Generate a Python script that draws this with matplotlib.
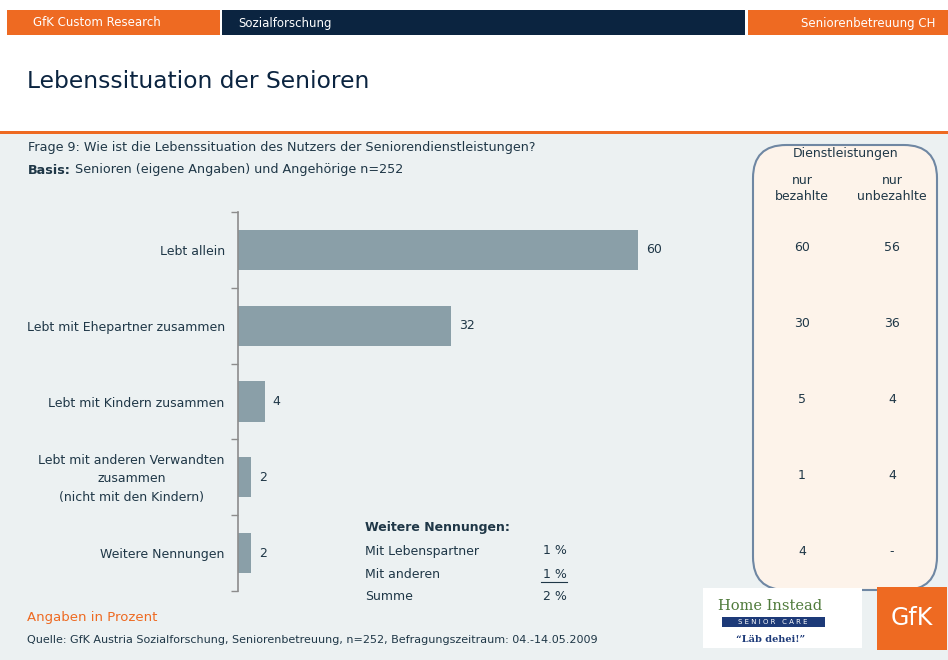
import matplotlib
matplotlib.use("Agg")
import matplotlib.pyplot as plt
from matplotlib.patches import Rectangle, FancyBboxPatch

W, H = 948, 660

categories = [
    "Lebt allein",
    "Lebt mit Ehepartner zusammen",
    "Lebt mit Kindern zusammen",
    "Lebt mit anderen Verwandten\nzusammen\n(nicht mit den Kindern)",
    "Weitere Nennungen",
]
values = [60, 32, 4, 2, 2]
nur_bezahlte = ["60", "30", "5", "1", "4"]
nur_unbezahlte = ["56", "36", "4", "4", "-"]
weitere_labels = ["Mit Lebenspartner", "Mit anderen", "Summe"]
weitere_values = ["1 %", "1 %", "2 %"]

navy = "#0B2440"
orange = "#EE6A22"
text_col = "#1F3747"
bar_col = "#8A9FA8"
bg = "#ECF1F2"


def fx(x):
    return x / W


def fy(y):
    return 1 - y / H


fig = plt.figure(figsize=(W / 100, H / 100), dpi=100)
fig.patch.set_facecolor("white")

# background panel
fig.patches.append(Rectangle((0, 0), 1, fy(133), transform=fig.transFigure,
                             facecolor=bg, edgecolor="none", zorder=-2))
fig.patches.append(Rectangle((0, fy(134)), 1, 3 / H, transform=fig.transFigure,
                             facecolor=orange, edgecolor="none", zorder=-1))

# header bars
for x0, x1, c in [(7, 220, orange), (222, 745, navy), (748, 948, orange)]:
    fig.patches.append(Rectangle((fx(x0), fy(35)), fx(x1 - x0), 25 / H,
                                 transform=fig.transFigure, facecolor=c,
                                 edgecolor="none", zorder=-1))
fig.text(fx(33), fy(23), "GfK Custom Research", color="white", fontsize=8.5, va="center")
fig.text(fx(238), fy(23), "Sozialforschung", color="white", fontsize=8.5, va="center")
fig.text(fx(935), fy(23), "Seniorenbetreuung CH", color="white", fontsize=8.5,
         va="center", ha="right")

fig.text(fx(27), fy(82), "Lebenssituation der Senioren", color=navy, fontsize=16.8,
         va="center")

fig.text(fx(28), fy(148), "Frage 9: Wie ist die Lebenssituation des Nutzers der Seniorendienstleistungen?",
         color=text_col, fontsize=9.2, va="center")
fig.text(fx(28), fy(170), "Basis:", color=text_col, fontsize=9.2, va="center", fontweight="bold")
fig.text(fx(75), fy(170), "Senioren (eigene Angaben) und Angehörige n=252",
         color=text_col, fontsize=9.2, va="center")

# bar chart
ax = fig.add_axes([fx(238), fy(591), fx(500), (591 - 212) / H])
ax.set_zorder(5)
ax.set_facecolor("none")
ypos = list(range(len(categories)))
ax.barh(ypos, values, height=0.53, color=bar_col, zorder=2)
ax.set_ylim(len(categories) - 0.5, -0.5)
ax.set_xlim(0, 75)
for s in ["top", "right", "bottom"]:
    ax.spines[s].set_visible(False)
ax.spines["left"].set_color("#8C8C8C")
ax.spines["left"].set_linewidth(1.2)
ax.set_xticks([])
ax.set_yticks([i - 0.5 for i in range(len(categories) + 1)])
ax.set_yticklabels([])
ax.tick_params(axis="y", length=5, color="#8C8C8C", width=1)
for i, (c, v) in enumerate(zip(categories, values)):
    ax.text(-2, i + 0.02, c, ha="right", va="center", fontsize=9, color=text_col,
            linespacing=1.55, multialignment="center" if "\n" in c else "right")
    ax.text(v + 1.2, i, str(v), ha="left", va="center", fontsize=9, color=text_col)

# right panel
panel = FancyBboxPatch((fx(753), fy(590)), fx(937 - 753), (590 - 145) / H,
                       boxstyle="round,pad=0,rounding_size=0.035",
                       transform=fig.transFigure, facecolor="#FDF3EA",
                       edgecolor="#6F87A3", linewidth=1.5, zorder=1,
                       mutation_aspect=W / H)
fig.patches.append(panel)
fig.text(fx(846), fy(153), "Dienstleistungen", ha="center", va="center",
         fontsize=9, color=text_col)
fig.text(fx(802), fy(188), "nur\nbezahlte", ha="center", va="center",
         fontsize=9, color=text_col, linespacing=1.3)
fig.text(fx(892), fy(188), "nur\nunbezahlte", ha="center", va="center",
         fontsize=9, color=text_col, linespacing=1.3)
for i in range(len(categories)):
    ty = ax.transData.transform((0, i))[1] / fig.dpi / fig.get_figheight()
    fig.text(fx(802), ty + 2 / H, nur_bezahlte[i], ha="center", va="center",
             fontsize=9, color=text_col)
    fig.text(fx(892), ty + 2 / H, nur_unbezahlte[i], ha="center", va="center",
             fontsize=9, color=text_col)

# weitere Nennungen box
fig.text(fx(365), fy(527), "Weitere Nennungen:", fontsize=9, fontweight="bold",
         color=text_col, va="center")
for k, (lab, val) in enumerate(zip(weitere_labels, weitere_values)):
    yy = 551 + k * 23
    fig.text(fx(365), fy(yy), lab, fontsize=9, color=text_col, va="center")
    fig.text(fx(567), fy(yy), val, fontsize=9, color=text_col, va="center", ha="right")
fig.lines.append(plt.Line2D([fx(541), fx(567)], [fy(582), fy(582)],
                            transform=fig.transFigure, color=text_col, linewidth=0.8))

fig.text(fx(27), fy(618), "Angaben in Prozent", fontsize=9.5, color=orange, va="center")
fig.text(fx(27), fy(640),
         "Quelle: GfK Austria Sozialforschung, Seniorenbetreuung, n=252, Befragungszeitraum: 04.-14.05.2009",
         fontsize=8, color=text_col, va="center")

# logos
fig.patches.append(Rectangle((fx(703), fy(648)), fx(159), 60 / H, transform=fig.transFigure,
                             facecolor="white", edgecolor="none", zorder=1))
fig.text(fx(770), fy(606), "Home Instead", family="DejaVu Serif", fontsize=10.5,
         color="#4F7A3A", ha="center", va="center")
fig.patches.append(Rectangle((fx(722), fy(627)), fx(103), 10 / H, transform=fig.transFigure,
                             facecolor="#1D3A78", edgecolor="none", zorder=2))
fig.text(fx(773), fy(622), "S E N I O R   C A R E", fontsize=5, color="white",
         ha="center", va="center", zorder=3)
fig.text(fx(771), fy(639), "\u201cL\u00e4b dehei!\u201d", family="DejaVu Serif",
         fontsize=7, color="#1D3A78", fontweight="bold", ha="center", va="center")
fig.patches.append(Rectangle((fx(877), fy(650)), fx(70), 63 / H, transform=fig.transFigure,
                             facecolor=orange, edgecolor="none", zorder=1))
fig.text(fx(912), fy(618), "GfK", fontsize=17, color="white", ha="center", va="center")

fig.savefig("out.png", dpi=100)
